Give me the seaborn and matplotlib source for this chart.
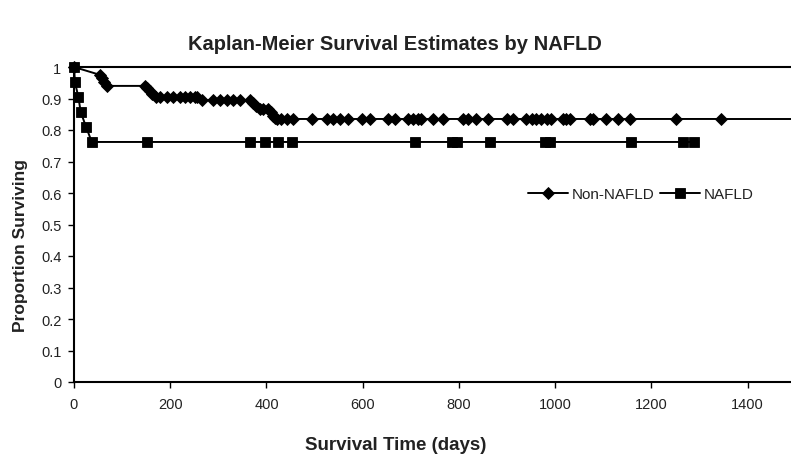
import matplotlib
matplotlib.use("Agg")
import matplotlib.pyplot as plt
import seaborn as sns
import pandas as pd

# ---- data ----
non_nafld_days = [0, 54, 58, 63, 68, 147, 152, 157, 163, 170, 179, 193, 206, 220, 231, 241, 251,
                  256, 265, 289, 303, 317, 331, 345, 365, 372, 379, 386, 393, 403, 410, 414, 418,
                  421, 431, 442, 455, 494, 525, 539, 553, 570, 598, 615, 653, 667, 694, 705, 715,
                  722, 746, 767, 809, 819, 836, 860, 899, 912, 940, 951, 961, 971, 982, 992, 1016,
                  1023, 1030, 1072, 1078, 1106, 1130, 1155, 1252, 1345]
non_nafld_surv = [1.0, 0.975, 0.965, 0.952, 0.94, 0.94, 0.932, 0.923, 0.914, 0.905, 0.905, 0.905,
                  0.905, 0.905, 0.905, 0.905, 0.905, 0.905, 0.895, 0.895, 0.895, 0.895, 0.895, 0.895,
                  0.895, 0.885, 0.875, 0.866, 0.866, 0.866, 0.856, 0.846, 0.838, 0.835, 0.835, 0.835,
                  0.835, 0.835, 0.835, 0.835, 0.835, 0.835, 0.835, 0.835, 0.835, 0.835, 0.835, 0.835,
                  0.835, 0.835, 0.835, 0.835, 0.835, 0.835, 0.835, 0.835, 0.835, 0.835, 0.835, 0.835,
                  0.835, 0.835, 0.835, 0.835, 0.835, 0.835, 0.835, 0.835, 0.835, 0.835, 0.835, 0.835,
                  0.835, 0.835]
non_nafld_line_end = 1500  # line continues past last marker

nafld_days = [0, 2, 9, 14, 25, 37, 151, 366, 397, 424, 452, 708, 785, 795, 864, 978, 989,
              1158, 1265, 1288]
nafld_surv = [1.0, 0.952, 0.905, 0.857, 0.810, 0.762, 0.762, 0.762, 0.762, 0.762, 0.762, 0.762,
              0.762, 0.762, 0.762, 0.762, 0.762, 0.762, 0.762, 0.762]

groups = ["Non-NAFLD", "NAFLD"]
x_ticks = [0, 200, 400, 600, 800, 1000, 1200, 1400]
y_ticks = [0, 0.1, 0.2, 0.3, 0.4, 0.5, 0.6, 0.7, 0.8, 0.9, 1]
y_tick_labels = ["0", "0.1", "0.2", "0.3", "0.4", "0.5", "0.6", "0.7", "0.8", "0.9", "1"]

df = pd.DataFrame({
    "days": non_nafld_days + nafld_days,
    "surv": non_nafld_surv + nafld_surv,
    "group": [groups[0]] * len(non_nafld_days) + [groups[1]] * len(nafld_days),
})
tail = pd.DataFrame({
    "days": [non_nafld_days[-1], non_nafld_line_end],
    "surv": [non_nafld_surv[-1], non_nafld_surv[-1]],
    "group": [groups[0], groups[0]],
})

sns.set_style("white")
plt.rcParams["font.family"] = ["Liberation Sans", "DejaVu Sans"]

W, H = 791, 464
fig = plt.figure(figsize=(W / 100, H / 100), dpi=100)
ax = fig.add_axes([74 / W, (H - 383) / H, (W - 74) / W, (383 - 68) / H])

sns.lineplot(data=tail, x="days", y="surv", color="black", linewidth=1.4, ax=ax,
             legend=False, estimator=None, sort=False)
sns.lineplot(data=df, x="days", y="surv", hue="group", style="group",
             palette={"Non-NAFLD": "black", "NAFLD": "black"},
             markers={"Non-NAFLD": "D", "NAFLD": "s"}, dashes=False,
             markersize=7, markeredgewidth=0.6, markeredgecolor="black",
             linewidth=1.4, estimator=None, sort=False, ax=ax, clip_on=False)

# diamonds a bit smaller than squares
for line in ax.get_lines():
    if line.get_marker() == "D":
        line.set_markersize(6)

ax.set_xlim(0, 1490)
ax.set_ylim(0, 1)
ax.set_xticks(x_ticks)
ax.set_xticklabels([str(t) for t in x_ticks])
ax.set_yticks(y_ticks)
ax.set_yticklabels(y_tick_labels)
ax.tick_params(axis="both", direction="out", length=4, width=1, colors="black",
               labelsize=10.5, labelcolor="#222222")
ax.tick_params(axis="x", pad=7)
ax.tick_params(axis="y", pad=5)
ax.tick_params(bottom=True, left=True)

for side in ["left", "bottom", "top"]:
    ax.spines[side].set_visible(True)
    ax.spines[side].set_color("black")
    ax.spines[side].set_linewidth(1.5)
ax.spines["right"].set_visible(False)

ax.set_xlabel("")
ax.set_ylabel("")

fig.text(395 / W, 1 - 45 / H, "Kaplan-Meier Survival Estimates by NAFLD", ha="center", va="center",
         fontsize=14.5, fontweight="bold", color="#222222")
fig.text(396 / W, 1 - 446 / H, "Survival Time (days)", ha="center", va="center",
         fontsize=13.5, fontweight="bold", color="#222222")
fig.text(21 / W, 1 - 246 / H, "Proportion Surviving", ha="center", va="center",
         rotation=90, fontsize=12.5, fontweight="bold", color="#222222")

handles, labels = ax.get_legend_handles_labels()
leg = ax.legend(handles, labels, ncol=2, frameon=False, loc="center left",
                bbox_to_anchor=((528 - 74) / (W - 74), (383 - 195) / 315),
                fontsize=11, handlelength=2.6, handletextpad=0.25, columnspacing=0.4,
                borderaxespad=0, borderpad=0)
for t in leg.get_texts():
    t.set_color("#222222")

fig.savefig("out.png", dpi=100)
